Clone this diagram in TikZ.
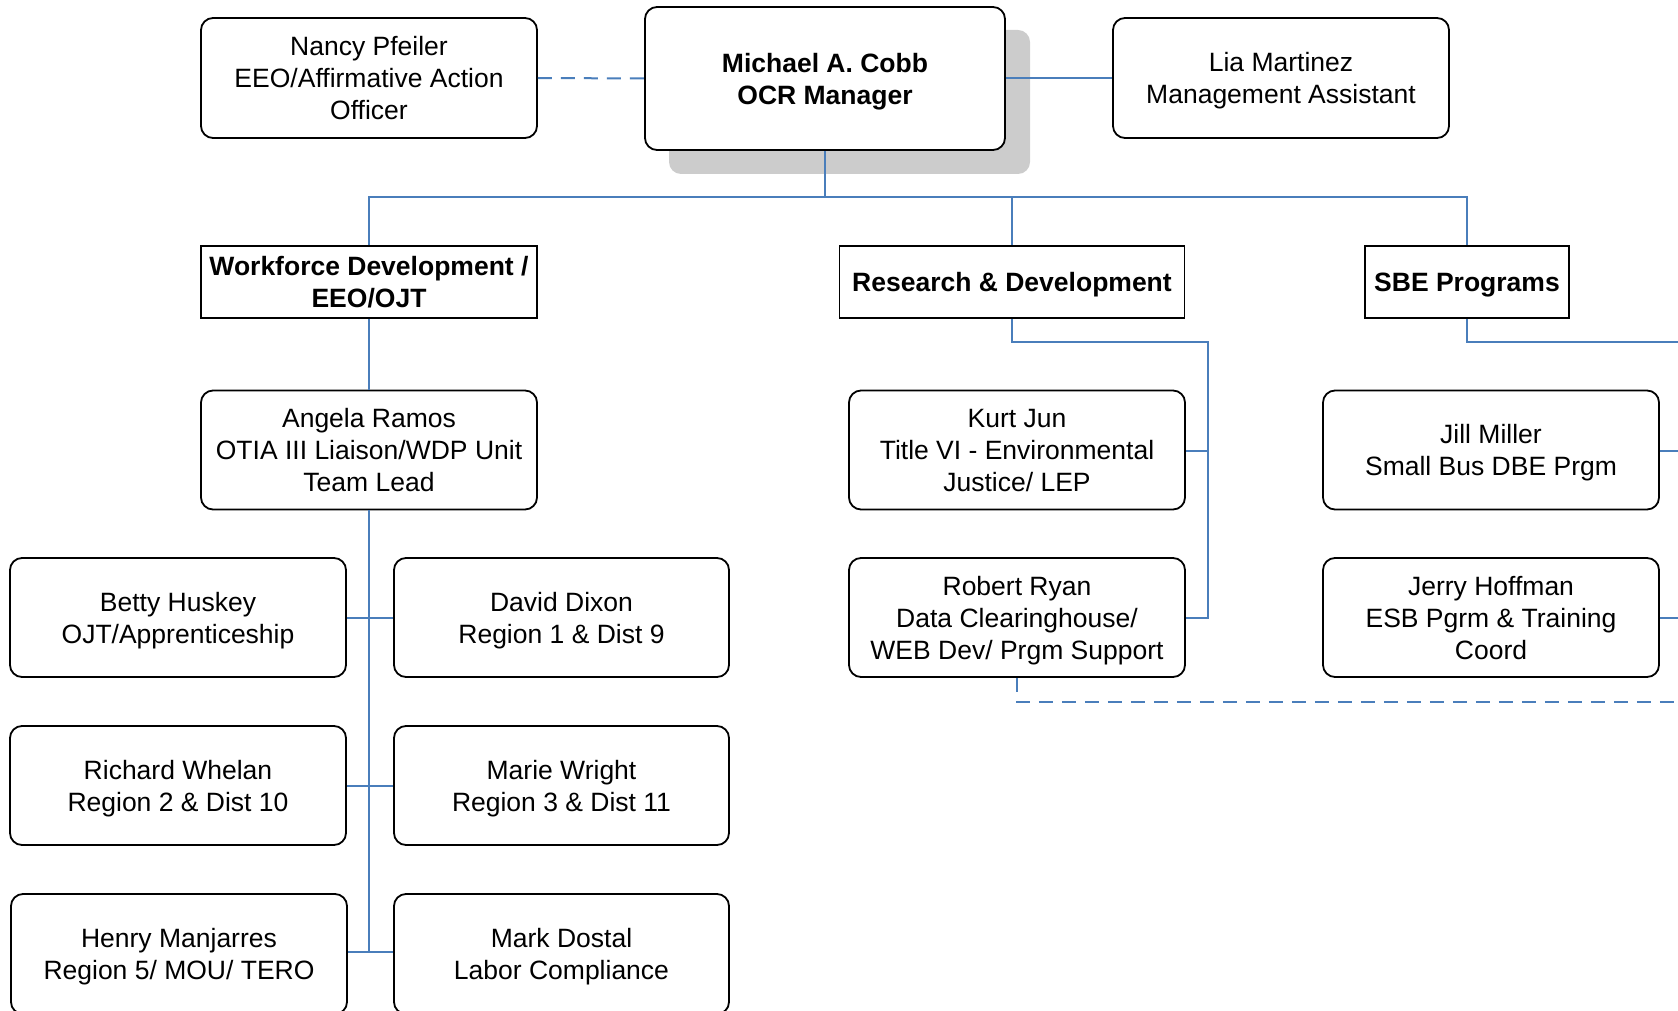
\documentclass[tikz,border=0pt]{standalone}
\usepackage{fontspec}
\setmainfont{Liberation Sans}
\definecolor{linkblue}{RGB}{74,126,187}
\definecolor{shadowgray}{RGB}{204,204,204}
\begin{document}
\begin{tikzpicture}[x=1pt,y=-1pt,
  every node/.style={font=\fontsize{26.5}{32}\selectfont, align=center, inner sep=0pt, text depth=0pt},
  person/.style={draw=black, line width=1.8pt, rounded corners=12pt, fill=white, minimum width=336pt, minimum height=119pt},
  unit/.style={draw=black, line width=1.8pt, fill=white, minimum height=72pt, font=\fontsize{26.5}{32}\selectfont\bfseries},
  link/.style={draw=linkblue, line width=2pt},
  dottedlink/.style={draw=linkblue, line width=2pt, dash pattern=on 14pt off 9pt}
]
\useasboundingbox (0,0) rectangle (1678,1011);
\clip (0,0) rectangle (1678,1011);
% shadow of manager box
\fill[shadowgray, rounded corners=12pt] (669,30) rectangle (1030,174);
% top row
\node[person, minimum height=120pt] (nancy) at (369,78) {Nancy Pfeiler\\EEO/Affirmative Action\\Officer};
\node[person, minimum width=360pt, minimum height=143pt, font=\fontsize{26.5}{32}\selectfont\bfseries] (cobb) at (825,78.5) {Michael A. Cobb\\OCR Manager};
\node[person, minimum height=120pt] (lia) at (1281,78) {Lia Martinez\\Management Assistant};
% units
\node[unit, minimum width=336pt] (wf) at (369,282) {Workforce Development /\\EEO/OJT};
\node[unit, minimum width=345pt] (rd) at (1012,282) {Research \& Development};
\node[unit, minimum width=204pt] (sbe) at (1467,282) {SBE Programs};
% workforce staff
\node[person] (angela) at (369,450) {Angela Ramos\\OTIA III Liaison/WDP Unit\\Team Lead};
\node[person] (betty) at (178,617.5) {Betty Huskey\\OJT/Apprenticeship};
\node[person, minimum width=335pt] (david) at (561.5,617.5) {David Dixon\\Region 1 \& Dist 9};
\node[person] (richard) at (178,785.5) {Richard Whelan\\Region 2 \& Dist 10};
\node[person, minimum width=335pt] (marie) at (561.5,785.5) {Marie Wright\\Region 3 \& Dist 11};
\node[person, minimum height=120pt] (henry) at (179,954) {Henry Manjarres\\Region 5/ MOU/ TERO};
\node[person, minimum width=335pt, minimum height=120pt] (mark) at (561.5,954) {Mark Dostal\\Labor Compliance};
% R&D staff
\node[person] (kurt) at (1017,450) {Kurt Jun\\Title VI - Environmental\\Justice/ LEP};
\node[person] (robert) at (1017,617.5) {Robert Ryan\\Data Clearinghouse/\\WEB Dev/ Prgm Support};
% SBE staff
\node[person] (jill) at (1491,450) {Jill Miller\\Small Bus DBE Prgm};
\node[person] (jerry) at (1491,617.5) {Jerry Hoffman\\ESB Pgrm \& Training\\Coord};
% edge coordinates
\coordinate (sbeout) at (1678,342);
\coordinate (jillout) at (1678,451);
\coordinate (jerryout) at (1678,618);
\coordinate (dashout) at (1678,702);
% connectors
\draw[dottedlink] (nancy.east) -- (cobb.west);
\draw[link] (cobb.east |- lia.west) -- (lia.west);
\draw[link] (cobb.south) -- (825,197);
\draw[link] (wf.north) -- (369,197) -- (sbe.north |- 0,197) -- (sbe.north);
\draw[link] (rd.north |- 0,197) -- (rd.north);
\draw[link] (wf.south) -- (angela.north);
\draw[link] (angela.south) -- (369,952);
\draw[link] (betty.east |- 0,618) -- (david.west |- 0,618);
\draw[link] (richard.east |- 0,786) -- (marie.west |- 0,786);
\draw[link] (henry.east |- 0,952) -- (mark.west |- 0,952);
\draw[link] (rd.south) -- (1012,342) -- (1208,342) -- (1208,618) -- (robert.east |- 0,618);
\draw[link] (kurt.east |- 0,451) -- (1208,451);
\draw[link] (sbe.south) -- (1467,342) -- (sbeout);
\draw[link] (jill.east |- jillout) -- (jillout);
\draw[link] (jerry.east |- jerryout) -- (jerryout);
\draw[dottedlink] (robert.south) -- (robert.south |- dashout) -- (dashout);
\end{tikzpicture}
\end{document}
